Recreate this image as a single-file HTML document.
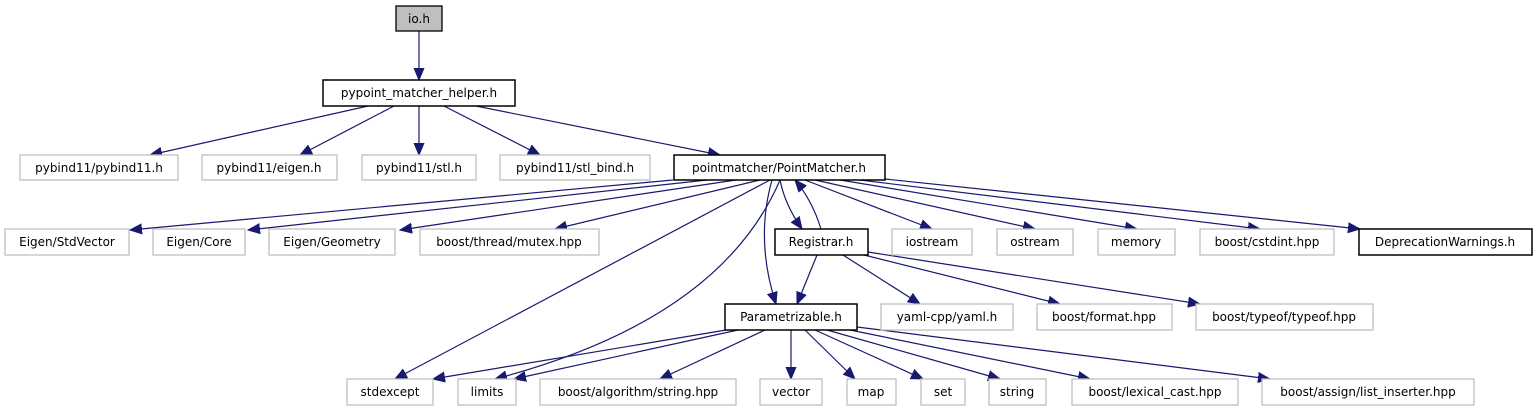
<!DOCTYPE html>
<html><head><meta charset="utf-8"><style>
html,body{margin:0;padding:0;background:#fff;}
svg{display:block;}
text{font-family:"DejaVu Sans","Liberation Sans",sans-serif;font-size:12px;fill:#000;text-anchor:middle;}
.g{fill:#fff;stroke:#bfbfbf;stroke-width:1.3;}
.b{fill:#fff;stroke:#000;stroke-width:1.5;}
.e{fill:none;stroke:#191970;stroke-width:1.2;marker-end:url(#a);}
</style></head><body>
<svg width="1538" height="411" viewBox="0 0 1538 411" xmlns="http://www.w3.org/2000/svg">
<defs><marker id="a" markerUnits="userSpaceOnUse" markerWidth="14" markerHeight="12" refX="12" refY="6" orient="auto"><path d="M0,1 L12,6 L0,11 z" fill="#191970" stroke="#191970"/></marker></defs>

<path class="e" d="M419,31 L419,80"/>
<path class="e" d="M368,106 L150,155"/>
<path class="e" d="M394,106 L300,155"/>
<path class="e" d="M419,106 L419,155"/>
<path class="e" d="M444,106 L540,155"/>
<path class="e" d="M476,106 L720,155"/>

<path class="e" d="M673,180 L130,230"/>
<path class="e" d="M707,180 L248,230"/>
<path class="e" d="M736,180 L400,230"/>
<path class="e" d="M760,180 L555,229"/>
<path class="e" d="M770,180 L395,379"/>
<path class="e" d="M780,180 Q720,320 495,379"/>
<path class="e" d="M772,180 Q755,240 776,304"/>
<path class="e" d="M780,180 Q785,205 802,229"/>
<path class="e" d="M821,229 Q812,200 795,180"/>
<path class="e" d="M805,180 L932,229"/>
<path class="e" d="M815,180 L1035,229"/>
<path class="e" d="M840,180 L1137,229"/>
<path class="e" d="M860,180 L1260,229"/>
<path class="e" d="M885,179 L1360,229"/>

<path class="e" d="M817,255 L797,304"/>
<path class="e" d="M843,255 L920,304"/>
<path class="e" d="M864,255 L1060,304"/>
<path class="e" d="M868,252 L1200,304"/>

<path class="e" d="M726,330 L433,379"/>
<path class="e" d="M738,330 L514,379"/>
<path class="e" d="M765,330 L660,379"/>
<path class="e" d="M791,330 L791,379"/>
<path class="e" d="M805,330 L855,379"/>
<path class="e" d="M815,330 L923,379"/>
<path class="e" d="M827,330 L1000,379"/>
<path class="e" d="M850,330 L1090,379"/>
<path class="e" d="M857,327 L1270,379"/>

<rect x="396" y="6" width="46" height="25" fill="#bfbfbf" stroke="#000" stroke-width="1.3"/><text x="419" y="23">io.h</text>
<rect class="b" x="323" y="80" width="192" height="26"/><text x="419" y="97">pypoint_matcher_helper.h</text>

<rect class="g" x="20" y="155" width="158" height="25"/><text x="99" y="172">pybind11/pybind11.h</text>
<rect class="g" x="202" y="155" width="135" height="25"/><text x="269" y="172">pybind11/eigen.h</text>
<rect class="g" x="362" y="155" width="114" height="25"/><text x="419" y="172">pybind11/stl.h</text>
<rect class="g" x="500" y="155" width="150" height="25"/><text x="575" y="172">pybind11/stl_bind.h</text>
<rect class="b" x="674" y="155" width="211" height="25"/><text x="779" y="172">pointmatcher/PointMatcher.h</text>

<rect class="g" x="5" y="229" width="124" height="26"/><text x="67" y="246">Eigen/StdVector</text>
<rect class="g" x="153" y="229" width="92" height="26"/><text x="199" y="246">Eigen/Core</text>
<rect class="g" x="269" y="229" width="126" height="26"/><text x="332" y="246">Eigen/Geometry</text>
<rect class="g" x="420" y="229" width="179" height="26"/><text x="509" y="246">boost/thread/mutex.hpp</text>
<rect class="b" x="775" y="229" width="93" height="26"/><text x="821" y="246">Registrar.h</text>
<rect class="g" x="892" y="229" width="80" height="26"/><text x="932" y="246">iostream</text>
<rect class="g" x="997" y="229" width="76" height="26"/><text x="1035" y="246">ostream</text>
<rect class="g" x="1098" y="229" width="77" height="26"/><text x="1136" y="246">memory</text>
<rect class="g" x="1200" y="229" width="134" height="26"/><text x="1267" y="246">boost/cstdint.hpp</text>
<rect class="b" x="1359" y="229" width="173" height="26"/><text x="1445" y="246">DeprecationWarnings.h</text>

<rect class="b" x="725" y="304" width="132" height="26"/><text x="791" y="321">Parametrizable.h</text>
<rect class="g" x="881" y="304" width="132" height="26"/><text x="947" y="321">yaml-cpp/yaml.h</text>
<rect class="g" x="1037" y="304" width="135" height="26"/><text x="1104" y="321">boost/format.hpp</text>
<rect class="g" x="1196" y="304" width="177" height="26"/><text x="1284" y="321">boost/typeof/typeof.hpp</text>

<rect class="g" x="347" y="379" width="86" height="26"/><text x="390" y="396">stdexcept</text>
<rect class="g" x="458" y="379" width="58" height="26"/><text x="487" y="396">limits</text>
<rect class="g" x="540" y="379" width="196" height="26"/><text x="638" y="396">boost/algorithm/string.hpp</text>
<rect class="g" x="760" y="379" width="62" height="26"/><text x="791" y="396">vector</text>
<rect class="g" x="847" y="379" width="49" height="26"/><text x="871" y="396">map</text>
<rect class="g" x="921" y="379" width="44" height="26"/><text x="943" y="396">set</text>
<rect class="g" x="989" y="379" width="57" height="26"/><text x="1017" y="396">string</text>
<rect class="g" x="1072" y="379" width="166" height="26"/><text x="1155" y="396">boost/lexical_cast.hpp</text>
<rect class="g" x="1262" y="379" width="212" height="26"/><text x="1368" y="396">boost/assign/list_inserter.hpp</text>
</svg>
</body></html>
